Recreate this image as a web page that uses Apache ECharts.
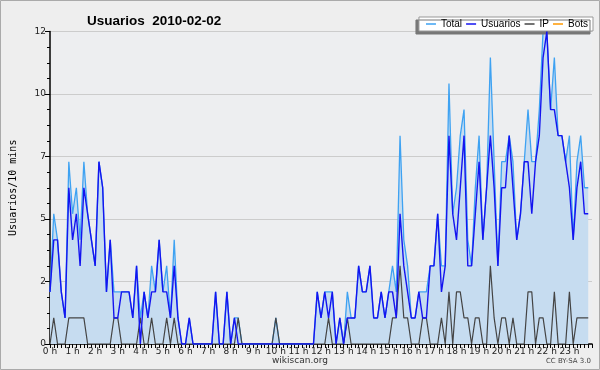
<!DOCTYPE html>
<html>
<head>
<meta charset="utf-8">
<script src="https://cdn.jsdelivr.net/npm/echarts@6/dist/echarts.min.js"></script>
<style>
html, body { margin: 0; padding: 0; background: #eeeeee; }
#chart { width: 600px; height: 370px; }
</style>
</head>
<body>
<div id="chart"></div>
<script>
// one value every 10 minutes, 144 per day
var total = [
    2,5,4,2,1,7,5,6,4,7, 5,4,3,7,6,2,4,2,2,2, 2,2,1,3,1,2,1,3,2,4,
    2,3,1,4,1,0,0,1,0,0, 0,0,0,0,2,0,0,2,0,1, 1,0,0,0,0,0,0,0,0,0,
    1,0,0,0,0,0,0,0,0,0, 0,2,1,2,2,2,0,1,0,2, 1,1,3,2,2,3,1,1,2,1,
    2,3,2,8,4,3,1,1,2,2, 2,3,3,5,3,3,10,5,6,8, 9,4,3,6,8,4,6,11,7,3,
    7,7,8,7,4,5,7,9,7,7, 9,12,12,9,11,8,8,7,8,4, 7,8,6,6
];
var usuarios = [
    2,4,4,2,1,6,4,5,3,6, 5,4,3,7,6,2,4,1,1,2, 2,2,1,3,0,2,1,2,2,4,
    2,2,1,3,1,0,0,1,0,0, 0,0,0,0,2,0,0,2,0,1, 0,0,0,0,0,0,0,0,0,0,
    0,0,0,0,0,0,0,0,0,0, 0,2,1,2,1,2,0,1,0,1, 1,1,3,2,2,3,1,1,2,1,
    2,2,1,5,3,2,1,1,2,1, 1,3,3,5,2,3,8,5,4,6, 8,3,3,5,7,4,6,8,6,3,
    6,6,8,6,4,5,7,7,5,7, 8,11,12,9,9,8,8,7,6,4, 6,7,5,5
];
var ip = [
    0,1,0,0,0,1,1,1,1,1, 0,0,0,0,0,0,0,1,1,0, 0,0,0,0,1,0,0,1,0,0,
    0,1,0,1,0,0,0,0,0,0, 0,0,0,0,0,0,0,0,0,0, 1,0,0,0,0,0,0,0,0,0,
    1,0,0,0,0,0,0,0,0,0, 0,0,0,0,1,0,0,0,0,1, 0,0,0,0,0,0,0,0,0,0,
    0,1,1,3,1,1,0,0,0,1, 1,0,0,0,1,0,2,0,2,2, 1,1,0,1,1,0,0,3,1,0,
    1,1,0,1,0,0,0,2,2,0, 1,1,0,0,2,0,0,0,2,0, 1,1,1,1
];
var bots = [];
var seriesNames = ['Total', 'Usuarios', 'IP', 'Bots'];

// x in hours
function pts(arr) {
    return arr.map(function (v, i) { return [i / 6, v]; });
}

var chart = echarts.init(document.getElementById('chart'));
var option = {
    animation: false,
    backgroundColor: '#eeeeee',
    title: {
        text: 'Usuarios  2010-02-02',
        left: 82,
        top: 9,
        textStyle: { fontFamily: 'Liberation Sans', fontSize: 13.5, fontWeight: 'bold', color: '#000' }
    },
    legend: {
        data: seriesNames,
        right: 7,
        top: 17,
        padding: [2, 5, 2, 7],
        itemGap: 4,
        itemWidth: 10,
        itemHeight: 1.5,
        icon: 'rect',
        backgroundColor: '#ffffff',
        borderColor: '#999',
        borderWidth: 1,
        shadowColor: '#777',
        shadowOffsetX: -3,
        shadowOffsetY: 3,
        shadowBlur: 0,
        textStyle: { fontFamily: 'Liberation Sans', fontSize: 10, color: '#000' }
    },
    grid: {
        left: 46,
        right: 8,
        top: 31.5,
        bottom: 26,
        show: true,
        backgroundColor: '#edeef0',
        borderWidth: 0
    },
    xAxis: {
        type: 'value',
        min: 0,
        max: 24,
        interval: 1,
        axisLine: { lineStyle: { color: '#000', width: 1.5 } },
        axisTick: { length: 4, lineStyle: { color: '#000' } },
        minorTick: { show: true, splitNumber: 6, length: 4, lineStyle: { color: '#000' } },
        splitLine: { show: false },
        axisLabel: {
            fontFamily: 'DejaVu Sans', fontSize: 9, color: '#222', margin: 3,
            formatter: function (v) { return v < 24 ? v + ' h' : ''; }
        }
    },
    yAxis: {
        type: 'value',
        min: 0,
        max: 12,
        interval: 2.4,
        name: 'Usuarios/10 mins',
        nameLocation: 'middle',
        nameGap: 32,
        nameTextStyle: { fontFamily: 'DejaVu Sans Mono', fontSize: 10, color: '#000' },
        axisLine: { show: true, lineStyle: { color: '#000', width: 1.5 } },
        axisTick: { show: true, length: 5, lineStyle: { color: '#000' } },
        minorTick: { show: true, splitNumber: 4, length: 3, lineStyle: { color: '#000' } },
        splitLine: { lineStyle: { color: '#cccccc' } },
        axisLabel: {
            fontFamily: 'DejaVu Sans', fontSize: 9, color: '#222', margin: 4,
            formatter: function (v) { return String(Math.round(v)); }
        }
    },
    graphic: [
        {
            type: 'rect',
            shape: { x: 0.5, y: 0.5, width: 599, height: 369 },
            style: { fill: 'none', stroke: '#aaaaaa', lineWidth: 1 },
            silent: true
        },
        {
            type: 'text',
            left: 'center',
            top: 356,
            style: { text: 'wikiscan.org', fontFamily: 'DejaVu Sans', fontSize: 9, fill: '#333' }
        },
        {
            type: 'text',
            right: 9,
            top: 358,
            style: { text: 'CC BY-SA 3.0', fontFamily: 'DejaVu Sans', fontSize: 7, fill: '#444' }
        }
    ],
    series: [
        {
            name: 'Total',
            type: 'line',
            data: pts(total),
            symbol: 'none',
            color: '#3ea2f2',
            lineStyle: { color: '#3ea2f2', width: 1.3 },
            areaStyle: { color: '#c6dcf0', opacity: 1 },
            z: 2
        },
        {
            name: 'IP',
            type: 'line',
            data: pts(ip),
            symbol: 'none',
            color: '#444444',
            lineStyle: { color: '#444444', width: 1.2 },
            z: 3
        },
        {
            name: 'Usuarios',
            type: 'line',
            data: pts(usuarios),
            symbol: 'none',
            color: '#1414f0',
            lineStyle: { color: '#1414f0', width: 1.4 },
            z: 4
        },
        {
            name: 'Bots',
            type: 'line',
            data: pts(bots),
            symbol: 'none',
            color: '#ff9900',
            lineStyle: { color: '#ff9900', width: 1.3 },
            z: 5
        }
    ]
};
chart.setOption(option);
</script>
</body>
</html>
